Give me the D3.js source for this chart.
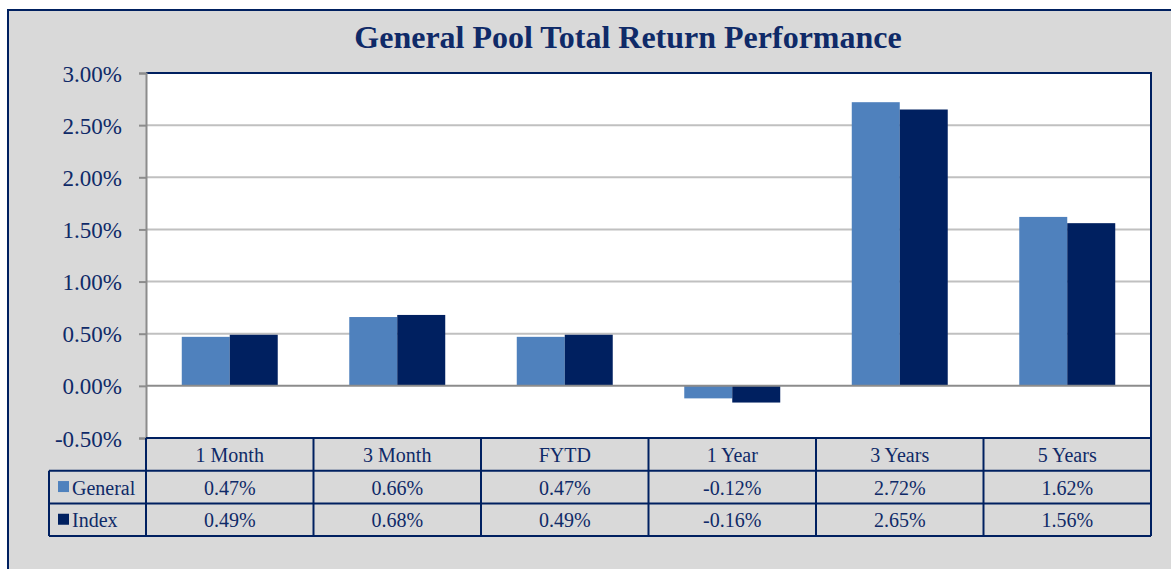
<!DOCTYPE html>
<html>
<head>
<meta charset="utf-8">
<script src="https://cdn.jsdelivr.net/npm/d3@7"></script>
<style>
  body { margin: 0; background: #fff; }
  svg { display: block; }
  text { font-family: "Liberation Serif", "Times New Roman", serif; fill: #0f2a68; }
</style>
</head>
<body>
<div id="chart"></div>
<script>
// data
var categories = ["1 Month", "3 Month", "FYTD", "1 Year", "3 Years", "5 Years"];
var seriesNames = ["General", "Index"];
var generalValues = [0.47, 0.66, 0.47, -0.12, 2.72, 1.62];
var indexValues = [0.49, 0.68, 0.49, -0.16, 2.65, 1.56];
var yTicks = [-0.5, 0, 0.5, 1.0, 1.5, 2.0, 2.5, 3.0];

var colors = { "General": "#4f81bd", "Index": "#002060" };
var navy = "#002060";

var svgWidth = 1171, svgHeight = 569;
var plot = { left: 146, right: 1151, top: 73, bottom: 438 };
var rowH = 32.7;

var svg = d3.select("#chart").append("svg")
  .attr("width", svgWidth)
  .attr("height", svgHeight);

// chart area background + frame (runs off right/bottom like the reference)
svg.append("rect")
  .attr("x", 8).attr("y", 10)
  .attr("width", 1220).attr("height", 620)
  .attr("fill", "#d9d9d9")
  .attr("stroke", navy)
  .attr("stroke-width", 2);

// title
svg.append("text")
  .attr("x", 628).attr("y", 48)
  .attr("text-anchor", "middle")
  .style("font-size", "32px")
  .style("font-weight", "bold")
  .text("General Pool Total Return Performance");

// scales
var y = d3.scaleLinear().domain([-0.5, 3.0]).range([plot.bottom, plot.top]);
var x0 = d3.scaleBand().domain(categories)
  .range([plot.left, plot.right])
  .paddingInner(0.427).paddingOuter(0.2135);
var x1 = d3.scaleBand().domain(seriesNames).range([0, x0.bandwidth()]);

// plot area
svg.append("rect")
  .attr("x", plot.left).attr("y", plot.top)
  .attr("width", plot.right - plot.left).attr("height", plot.bottom - plot.top)
  .attr("fill", "#fff");

// gridlines
svg.append("g")
  .selectAll("line")
  .data(yTicks.filter(d => d !== 0 && d !== -0.5 && d !== 3.0))
  .join("line")
    .attr("x1", plot.left).attr("x2", plot.right)
    .attr("y1", d => y(d)).attr("y2", d => y(d))
    .attr("stroke", "#c0c0c0")
    .attr("stroke-width", 2);

// bars
var rows = seriesNames.map((name, i) => ({ name: name, values: i === 0 ? generalValues : indexValues }));
rows.forEach(function(s) {
  svg.append("g")
    .selectAll("rect")
    .data(s.values)
    .join("rect")
      .attr("x", (d, i) => x0(categories[i]) + x1(s.name))
      .attr("y", d => y(Math.max(0, d)))
      .attr("width", x1.bandwidth())
      .attr("height", d => Math.abs(y(d) - y(0)))
      .attr("fill", colors[s.name]);
});

// zero line
svg.append("line")
  .attr("x1", plot.left).attr("x2", plot.right)
  .attr("y1", y(0)).attr("y2", y(0))
  .attr("stroke", "#8c8c8c")
  .attr("stroke-width", 2);

// top + right border of plot
svg.append("path")
  .attr("d", "M" + plot.left + "," + plot.top + "H" + plot.right + "V" + plot.bottom)
  .attr("fill", "none")
  .attr("stroke", navy)
  .attr("stroke-width", 2);

// y axis
var yAxis = svg.append("g")
  .attr("transform", "translate(" + plot.left + ",0)")
  .call(d3.axisLeft(y).tickValues(yTicks).tickSize(7).tickPadding(17)
    .tickFormat(d => d.toFixed(2) + "%"));
yAxis.select(".domain").attr("stroke", "#8c8c8c").attr("stroke-width", 2);
yAxis.selectAll(".tick line").attr("stroke", "#8c8c8c").attr("stroke-width", 2);
yAxis.selectAll(".tick text")
  .attr("fill", "#0f2a68")
  .style("font-size", "23px")
  .attr("dy", "0.35em");

// data table
var table = svg.append("g");
var colW = x0.step();
var labelLeft = 49;

// header row (categories)
table.selectAll(".hdr")
  .data(categories)
  .join("text")
    .attr("class", "hdr")
    .attr("x", d => x0(d) + x0.bandwidth() / 2)
    .attr("y", plot.bottom + rowH / 2)
    .attr("dy", "0.38em")
    .attr("text-anchor", "middle")
    .style("font-size", "20px")
    .text(d => d);

rows.forEach(function(s, r) {
  var ry = plot.bottom + rowH * (r + 1);
  table.append("rect")
    .attr("x", labelLeft + 9).attr("y", ry + rowH / 2 - 6)
    .attr("width", 11).attr("height", 11)
    .attr("fill", colors[s.name]);
  table.append("text")
    .attr("x", labelLeft + 23).attr("y", ry + rowH / 2)
    .attr("dy", "0.38em")
    .style("font-size", "20px")
    .text(s.name);
  table.append("g")
    .selectAll("text")
    .data(s.values)
    .join("text")
      .attr("x", (d, i) => x0(categories[i]) + x0.bandwidth() / 2)
      .attr("y", ry + rowH / 2)
      .attr("dy", "0.38em")
      .attr("text-anchor", "middle")
      .style("font-size", "20px")
      .text(d => d.toFixed(2) + "%");
});

// table grid lines
var tableBottom = plot.bottom + rowH * 3;
var hLines = [
  { x1: plot.left, x2: plot.right, y: plot.bottom },
  { x1: labelLeft, x2: plot.right, y: plot.bottom + rowH },
  { x1: labelLeft, x2: plot.right, y: plot.bottom + rowH * 2 },
  { x1: labelLeft, x2: plot.right, y: tableBottom }
];
table.selectAll(".hl")
  .data(hLines)
  .join("line")
    .attr("x1", d => d.x1).attr("x2", d => d.x2)
    .attr("y1", d => d.y).attr("y2", d => d.y)
    .attr("stroke", navy).attr("stroke-width", 2);

var vLines = d3.range(categories.length + 1).map(i => plot.left + i * colW);
table.selectAll(".vl")
  .data(vLines)
  .join("line")
    .attr("x1", d => d).attr("x2", d => d)
    .attr("y1", plot.bottom).attr("y2", tableBottom)
    .attr("stroke", navy).attr("stroke-width", 2);
table.append("line")
  .attr("x1", labelLeft).attr("x2", labelLeft)
  .attr("y1", plot.bottom + rowH).attr("y2", tableBottom)
  .attr("stroke", navy).attr("stroke-width", 2);
</script>
</body>
</html>
